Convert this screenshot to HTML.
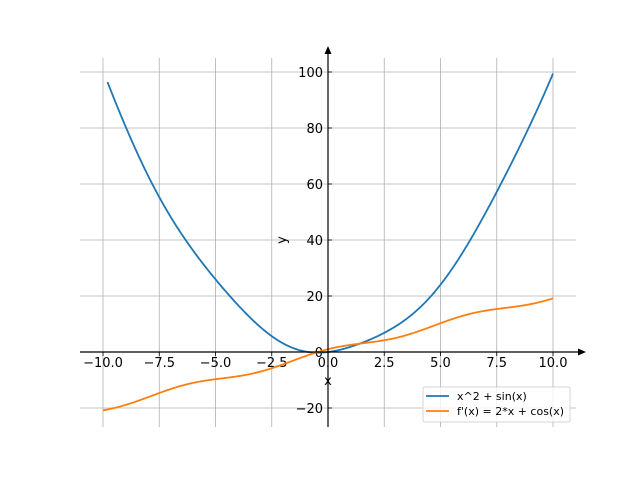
<!DOCTYPE html>
<html><head><style>body{margin:0;background:#fff}svg{display:block}text{font-family:"DejaVu Sans","Liberation Sans",sans-serif;font-size:13px;fill:#000}</style></head>
<body>
<svg id="s" width="640" height="480" xmlns="http://www.w3.org/2000/svg">
<g id="grid" stroke="#b0b0b0" stroke-width="0.8"></g>
<g id="ticks" stroke="#000" stroke-width="0.8"></g>
<g id="labels"></g>
<path id="p1" fill="none" stroke="#1f77b4" stroke-width="1.8"/>
<path id="p2" fill="none" stroke="#ff7f0e" stroke-width="1.8"/>
<line x1="80" y1="352" x2="580" y2="352" stroke="#000" stroke-width="1.2"/>
<polygon points="586,352 578,348.5 578,355.5" fill="#000"/>
<line x1="328" y1="427" x2="328" y2="52" stroke="#000" stroke-width="1.2"/>
<polygon points="328,46 324.5,54 331.5,54" fill="#000"/>
<text x="328" y="385" text-anchor="middle">x</text>
<text x="286" y="240" text-anchor="middle" transform="rotate(-90 286 240)">y</text>
<rect x="423" y="387" width="147" height="35" rx="2" fill="#fff" fill-opacity="0.8" stroke="#ccc" stroke-opacity="0.8"/>
<line x1="426" y1="396" x2="449" y2="396" stroke="#1f77b4" stroke-width="1.8"/>
<line x1="426" y1="411" x2="449" y2="411" stroke="#ff7f0e" stroke-width="1.8"/>
<text x="457" y="400" style="font-size:11px">x^2 + sin(x)</text>
<text x="457" y="415" style="font-size:11px">f'(x) = 2*x + cos(x)</text>
</svg>
<script>
var X=function(x){return 328+22.5*x},Y=function(y){return 352-2.8*y};
var g=document.getElementById('grid'),t=document.getElementById('ticks'),l=document.getElementById('labels'),ns='http://www.w3.org/2000/svg';
function el(p,n,a,txt){var e=document.createElementNS(ns,n);for(var k in a)e.setAttribute(k,a[k]);if(txt!=null)e.textContent=txt;p.appendChild(e);}
for(var i=-4;i<=4;i++){var v=i*2.5,x=X(v);el(g,'line',{x1:x,y1:58,x2:x,y2:427});el(t,'line',{x1:x,y1:352,x2:x,y2:356});
el(l,'text',{x:x,y:367,'text-anchor':'middle'},(v<0?'\u2212':'')+Math.abs(v).toFixed(1));}
for(var j=-1;j<=5;j++){var v=j*20,y=Y(v);el(g,'line',{x1:80,y1:y,x2:576,y2:y});el(t,'line',{x1:328,y1:y,x2:332,y2:y});
el(l,'text',{x:323,y:y+5,'text-anchor':'end'},(v<0?'\u2212':'')+Math.abs(v));}
var a='',b='';for(var k=0;k<=400;k++){var x=-10+20*k/400;b+=(k?'L':'M')+X(x).toFixed(2)+','+Y(2*x+Math.cos(x)).toFixed(2);}
for(var k=0;k<=400;k++){var x=-9.8+19.8*k/400;a+=(k?'L':'M')+X(x).toFixed(2)+','+Y(x*x+Math.sin(x)).toFixed(2);}
document.getElementById('p1').setAttribute('d',a);document.getElementById('p2').setAttribute('d',b);
</script>
</body></html>
